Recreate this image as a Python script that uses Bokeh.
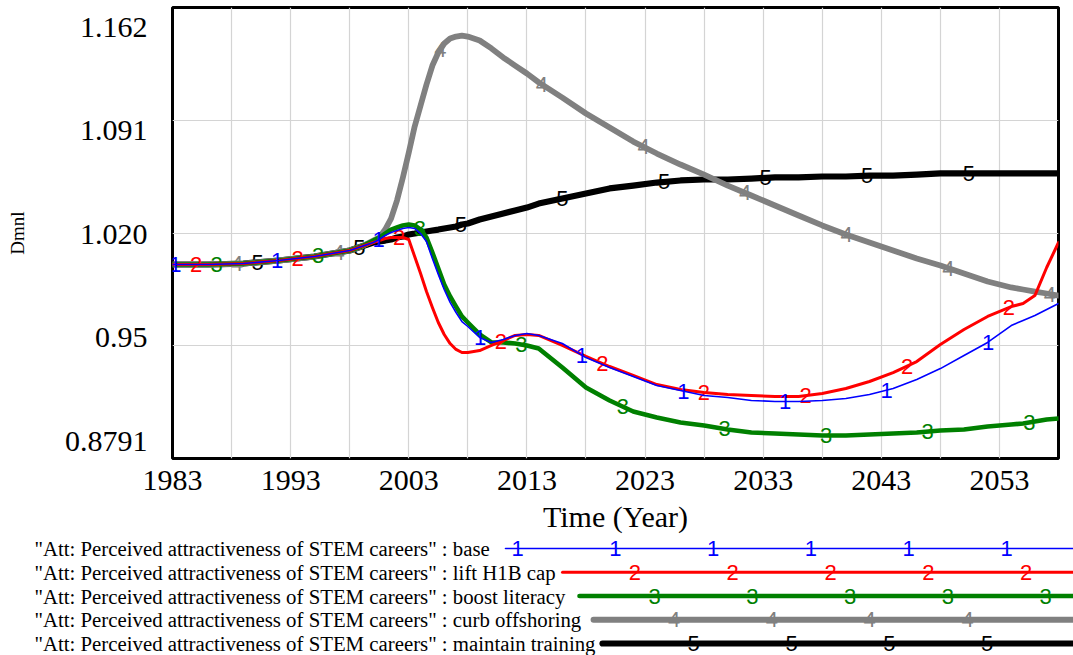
import numpy as np
from bokeh.plotting import figure
from bokeh.models import Range1d, FixedTicker, Grid, LinearAxis, CustomJSTickFormatter
from bokeh.layouts import column
from bokeh.core.properties import value
from bokeh.embed import file_html
from bokeh.resources import INLINE

# ---- simulation output (Dmnl) ----
years = [1983, 1986, 1989, 1992, 1995, 1998, 1999, 2000, 2000.5, 2001, 2001.5, 2002, 2002.5,
         2003, 2003.5, 2004, 2004.5, 2005, 2005.5, 2006, 2006.5, 2007, 2007.5, 2008, 2009,
         2010, 2011, 2012, 2013, 2014, 2016, 2018, 2020, 2022, 2024, 2026, 2028, 2030, 2032,
         2034, 2036, 2038, 2040, 2042, 2044, 2046, 2048, 2050, 2052, 2054, 2055, 2056, 2057,
         2058]

base = [1.0008, 1.0008, 1.0014, 1.0033, 1.0058, 1.0096, 1.0121, 1.0146, 1.0165, 1.0190,
        1.0209, 1.0221, 1.0234, 1.0240, 1.0234, 1.0202, 1.0152, 1.0045, 0.9946, 0.9851,
        0.9770, 0.9707, 0.9650, 0.9619, 0.9550, 0.9519, 0.9537, 0.9563, 0.9575, 0.9563,
        0.9512, 0.9424, 0.9362, 0.9305, 0.9249, 0.9217, 0.9186, 0.9174, 0.9155, 0.9149,
        0.9149, 0.9155, 0.9167, 0.9192, 0.9230, 0.9287, 0.9355, 0.9437, 0.9519, 0.9625,
        0.9657, 0.9688, 0.9726, 0.9763]

lift_h1b_cap = [1.0008, 1.0008, 1.0014, 1.0033, 1.0058, 1.0096, 1.0121, 1.0146, 1.0158,
                1.0171, 1.0177, 1.0177, 1.0177, 1.0165, 1.0058, 0.9951, 0.9838, 0.9738,
                0.9644, 0.9569, 0.9512, 0.9475, 0.9456, 0.9456, 0.9468, 0.9500, 0.9531,
                0.9563, 0.9569, 0.9563, 0.9500, 0.9431, 0.9368, 0.9312, 0.9255, 0.9224,
                0.9205, 0.9192, 0.9186, 0.9180, 0.9180, 0.9199, 0.9230, 0.9274, 0.9330,
                0.9399, 0.9506, 0.9600, 0.9682, 0.9744, 0.9763, 0.9813, 0.9989, 1.0146]

boost_literacy = [1.0008, 1.0008, 1.0014, 1.0033, 1.0058, 1.0096, 1.0121, 1.0158, 1.0177,
                  1.0202, 1.0227, 1.0240, 1.0253, 1.0259, 1.0253, 1.0227, 1.0177, 1.0083,
                  0.9983, 0.9882, 0.9807, 0.9744, 0.9682, 0.9644, 0.9569, 0.9519, 0.9519,
                  0.9512, 0.9500, 0.9481, 0.9362, 0.9237, 0.9155, 0.9086, 0.9048, 0.9017,
                  0.8998, 0.8973, 0.8954, 0.8948, 0.8942, 0.8935, 0.8935, 0.8942, 0.8948,
                  0.8954, 0.8967, 0.8973, 0.8992, 0.9004, 0.9011, 0.9023, 0.9036, 0.9042]

curb_offshoring = [1.0008, 1.0008, 1.0014, 1.0033, 1.0058, 1.0096, 1.0121, 1.0158, 1.0177,
                   1.0227, 1.0296, 1.0409, 1.0553, 1.0710, 1.0874, 1.1005, 1.1137, 1.1256,
                   1.1338, 1.1394, 1.1425, 1.1438, 1.1444, 1.1438, 1.1413, 1.1363, 1.1306,
                   1.1256, 1.1206, 1.1150, 1.1055, 1.0955, 1.0867, 1.0779, 1.0704, 1.0635,
                   1.0572, 1.0503, 1.0441, 1.0378, 1.0315, 1.0253, 1.0196, 1.0146, 1.0096,
                   1.0045, 1.0002, 0.9951, 0.9901, 0.9864, 0.9851, 0.9838, 0.9826, 0.9813]

maintain_training = [1.0008, 1.0008, 1.0014, 1.0033, 1.0058, 1.0096, 1.0121, 1.0146, 1.0152,
                     1.0158, 1.0165, 1.0177, 1.0184, 1.0196, 1.0202, 1.0209, 1.0215, 1.0221,
                     1.0227, 1.0234, 1.0240, 1.0246, 1.0259, 1.0265, 1.0290, 1.0309, 1.0328,
                     1.0347, 1.0365, 1.0390, 1.0422, 1.0453, 1.0485, 1.0503, 1.0522, 1.0535,
                     1.0541, 1.0541, 1.0547, 1.0554, 1.0554, 1.0560, 1.0560, 1.0566, 1.0566,
                     1.0572, 1.0579, 1.0579, 1.0579, 1.0579, 1.0579, 1.0579, 1.0579, 1.0579]

scenario_names = ["base", "lift H1B cap", "boost literacy", "curb offshoring", "maintain training"]
variable_name = '"Att: Perceived attractiveness of STEM careers"'

x_tick_labels = [1983, 1993, 2003, 2013, 2023, 2033, 2043, 2053]
y_tick_labels = ["0.8791", "0.95", "1.020", "1.091", "1.162"]
X_MIN, X_MAX = 1983, 2058
Y_MIN, Y_MAX = 0.8791, 1.162

# ---- styling ----
series = [base, lift_h1b_cap, boost_literacy, curb_offshoring, maintain_training]
colors = ["#0000ff", "#ff0000", "#008000", "#808080", "#000000"]
widths = [1.6, 3.0, 4.6, 5.8, 6.2]
SERIF = "Liberation Serif"
SANS = "Liberation Sans"

p = figure(width=1073, height=535,
           x_range=Range1d(X_MIN, X_MAX), y_range=Range1d(Y_MIN, Y_MAX),
           output_backend="svg", toolbar_location=None, y_axis_location=None,
           min_border_left=172, min_border_right=15, min_border_top=7, min_border_bottom=77)
p.frame_align = False
p.grid.visible = False
p.background_fill_color = "white"
p.border_fill_color = "white"
p.outline_line_color = "black"
p.outline_line_width = 3

# grid: every 5 years, four equal bands vertically
x_grid = list(range(X_MIN + 5, X_MAX, 5))
y_grid = [Y_MIN + (Y_MAX - Y_MIN) * i / 4 for i in range(1, 4)]
p.add_layout(Grid(dimension=0, ticker=FixedTicker(ticks=x_grid),
                  grid_line_color="#d4d4d4", grid_line_width=1.2))
p.add_layout(Grid(dimension=1, ticker=FixedTicker(ticks=y_grid),
                  grid_line_color="#d4d4d4", grid_line_width=1.2))

# x axis
xa = p.xaxis[0]
xa.ticker = FixedTicker(ticks=x_tick_labels)
xa.axis_line_color = None
xa.major_tick_line_color = None
xa.minor_tick_line_color = None
xa.major_tick_out = 0
xa.major_label_standoff = 12
xa.major_label_text_font = SERIF
xa.major_label_text_font_size = "30px"
xa.major_label_text_color = "black"
xa.axis_label = "Time (Year)"
xa.axis_label_text_font = SERIF
xa.axis_label_text_font_size = "30px"
xa.axis_label_text_font_style = "normal"
xa.axis_label_text_color = "black"
xa.axis_label_standoff = 7

# y axis: labels spread evenly inside the value range
lab_pos = [Y_MIN + (Y_MAX - Y_MIN) * (0.0377 + 0.2295 * i) for i in range(len(y_tick_labels))]
ya = LinearAxis(ticker=FixedTicker(ticks=lab_pos),
                formatter=CustomJSTickFormatter(args=dict(labels=y_tick_labels),
                                                code="return labels[index];"))
ya.axis_line_color = None
ya.major_tick_line_color = None
ya.minor_tick_line_color = None
ya.major_tick_out = 0
ya.major_label_standoff = 25
ya.major_label_text_font = SERIF
ya.major_label_text_font_size = "30px"
ya.major_label_text_color = "black"
ya.axis_label = "Dmnl"
ya.axis_label_text_font = SERIF
ya.axis_label_text_font_size = "19px"
ya.axis_label_text_font_style = "normal"
ya.axis_label_text_color = "black"
ya.axis_label_standoff = 34
p.add_layout(ya, "left")

# series lines with numbered markers along each curve
MARK_START, MARK_SHIFT, MARK_STEP = 1983.25, 1.74, 8.6
for idx in reversed(range(len(series))):
    vals = series[idx]
    p.line(years, vals, line_color=colors[idx], line_width=widths[idx],
           line_join="round", line_cap="round")
    mx = np.arange(MARK_START + MARK_SHIFT * idx, X_MAX + 0.01, MARK_STEP)
    my = np.interp(mx, years, vals)
    p.text(x=mx, y=my, text=[str(idx + 1)] * len(mx), text_color=colors[idx],
           text_font=value(SANS), text_font_size="22px",
           text_align="center", text_baseline="middle")

# ---- legend strip ----
leg = figure(width=1073, height=120, x_range=Range1d(0, 1073), y_range=Range1d(120, 0),
             output_backend="svg", toolbar_location=None,
             x_axis_location=None, y_axis_location=None,
             min_border=0, min_border_left=0, min_border_right=0,
             min_border_top=0, min_border_bottom=0)
leg.frame_align = False
leg.grid.visible = False
leg.outline_line_color = None

row_y = [13 + 23.75 * i for i in range(5)]
line_x0 = [505, 562, 579, 593, 602]
LEG_END = 1073
LEG_MARK0, LEG_SHIFT, LEG_STEP, LEG_MARK_MAX = 517, 19.6, 97.8, 1050

leg.text(x=[34] * 5, y=row_y, text=[f"{variable_name} : {n}" for n in scenario_names],
         text_color="black", text_font=value(SERIF), text_font_size="20.8px",
         text_align="left", text_baseline="middle")
for idx in range(5):
    leg.line([line_x0[idx], LEG_END], [row_y[idx], row_y[idx]], line_color=colors[idx],
             line_width=widths[idx], line_cap="round")
    mx = np.arange(LEG_MARK0 + LEG_SHIFT * idx, LEG_MARK_MAX, LEG_STEP)
    mx = mx[mx >= line_x0[idx]]
    leg.text(x=mx, y=[row_y[idx]] * len(mx), text=[str(idx + 1)] * len(mx),
             text_color=colors[idx], text_font=value(SANS), text_font_size="22px",
             text_align="center", text_baseline="middle")

layout = column(p, leg, spacing=0)
open("out.html", "w").write(file_html(layout, INLINE))
